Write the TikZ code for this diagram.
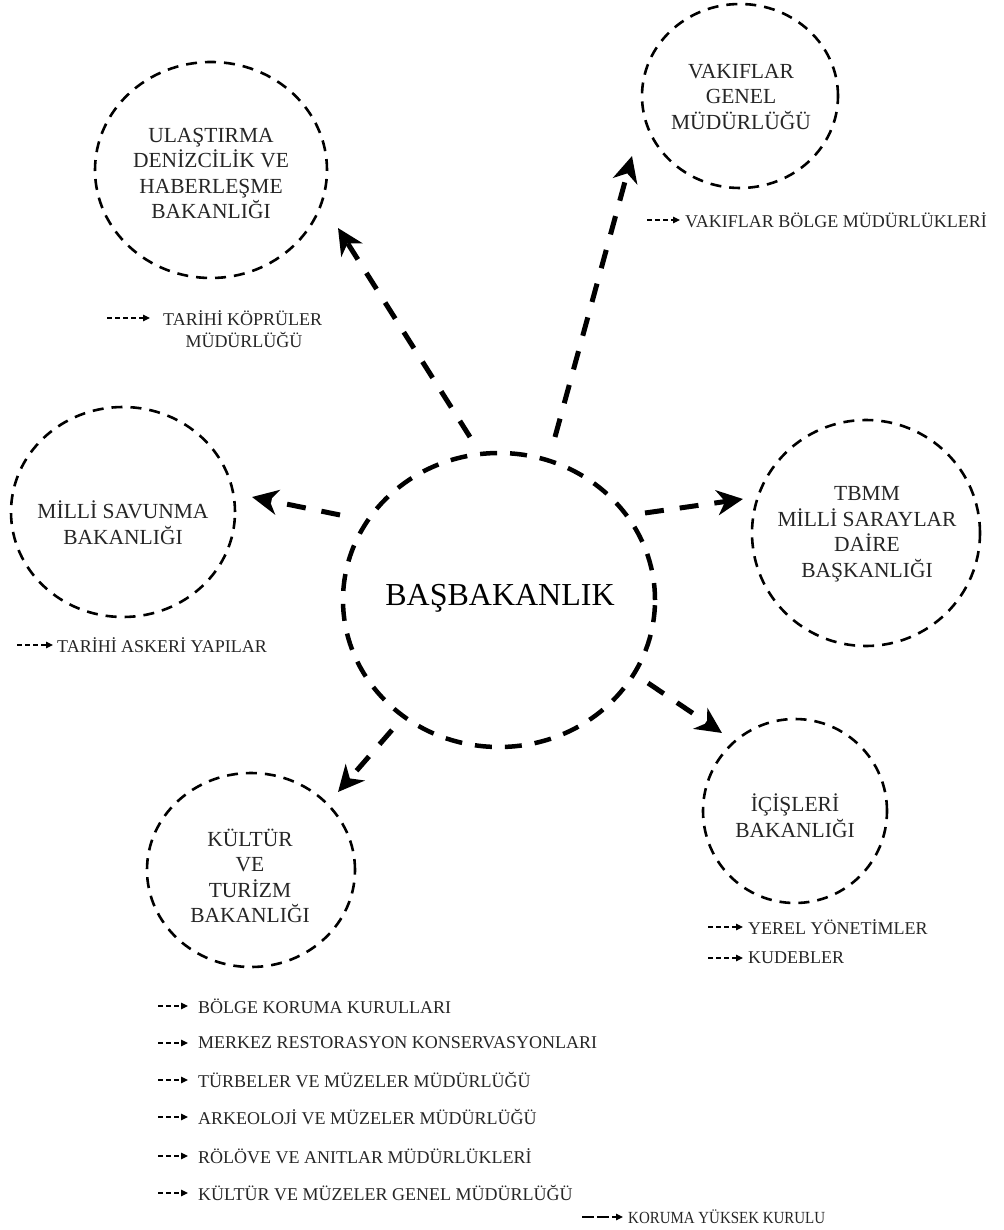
\documentclass[tikz,border=0pt]{standalone}
\usepackage{fontspec}
\setmainfont{Liberation Serif}
\usetikzlibrary{shapes.geometric,arrows.meta}
\begin{document}
\begin{tikzpicture}[x=1pt,y=-1pt,
  ring/.style={draw, ellipse, line width=2.6pt, dash pattern=on 11pt off 8pt, inner sep=0pt},
  mainring/.style={draw, ellipse, line width=4.5pt, dash pattern=on 17pt off 13pt, inner sep=0pt},
  lbl/.style={align=center, font=\fontsize{21.5}{25.5}\selectfont, text=black!85, inner sep=0pt},
  sub/.style={anchor=west, font=\fontsize{18}{22}\selectfont, text=black!85, inner sep=0pt},
  bigarrow/.style={line width=5pt, dash pattern=on 19pt off 16pt, -{Stealth[length=26pt,width=25pt,inset=8pt]}},
  smallarrow/.style={line width=1.2pt, dash pattern=on 5pt off 3pt, -{Triangle[length=7pt,width=6.5pt]}},
]
\fill[white] (0,0) rectangle (1003,1230);
\useasboundingbox (0,0) rectangle (1003,1230);

% central
\node[mainring, minimum width=312pt, minimum height=294pt] (bas) at (499,600) {};
\node[font=\fontsize{32}{36}\selectfont, inner sep=0pt] (bast) at (500,598) {BAŞBAKANLIK};

% ministries
\node[ring, minimum width=232pt, minimum height=216pt] (ula) at (211,170) {};
\node[lbl] (ulat) at (211,173.5) {ULAŞTIRMA\\DENİZCİLİK VE\\HABERLEŞME\\BAKANLIĞI};

\node[ring, minimum width=196pt, minimum height=184pt] (vak) at (740,96) {};
\node[lbl] (vakt) at (741,97) {VAKIFLAR\\GENEL\\MÜDÜRLÜĞÜ};

\node[ring, minimum width=224pt, minimum height=210pt] (mil) at (123,512) {};
\node[lbl] (milt) at (123,522.5) {MİLLİ SAVUNMA\\BAKANLIĞI};

\node[ring, minimum width=228pt, minimum height=226pt] (tbmm) at (866,533) {};
\node[lbl] (tbmmt) at (867,534) {TBMM\\MİLLİ SARAYLAR\\DAİRE\\BAŞKANLIĞI};

\node[ring, minimum width=184pt, minimum height=184pt] (ici) at (795,811) {};
\node[lbl] (icit) at (795,815.5) {İÇİŞLERİ\\BAKANLIĞI};

\node[ring, minimum width=208pt, minimum height=194pt] (kul) at (251,870) {};
\node[lbl] (kult) at (250,876) {KÜLTÜR\\VE\\TURİZM\\BAKANLIĞI};

% big arrows
\coordinate (a1s) at (470,437); \coordinate (a1e) at (338,228);
\coordinate (a2s) at (555,437); \coordinate (a2e) at (632,156);
\coordinate (a3s) at (340,515); \coordinate (a3e) at (252,497);
\coordinate (a4s) at (645,513); \coordinate (a4e) at (743,499);
\coordinate (a5s) at (648,683); \coordinate (a5e) at (722,733);
\coordinate (a6s) at (392,730); \coordinate (a6e) at (338,792);
\draw[bigarrow] (a1s) -- (a1e);
\draw[bigarrow] (a2s) -- (a2e);
\draw[bigarrow] (a3s) -- (a3e);
\draw[bigarrow] (a4s) -- (a4e);
\draw[bigarrow] (a5s) -- (a5e);
\draw[bigarrow] (a6s) -- (a6e);

% sub labels
\node[sub] (k1) at (163,318) {TARİHİ KÖPRÜLER};
\node[sub, anchor=center] (k2) at (244,340) {MÜDÜRLÜĞÜ};
\draw[smallarrow] ([xshift=-56pt]k1.west) -- ([xshift=-13pt]k1.west);

\node[sub] (vb) at (685,220) {VAKIFLAR BÖLGE MÜDÜRLÜKLERİ};
\draw[smallarrow] ([xshift=-38pt]vb.west) -- ([xshift=-5pt]vb.west);

\node[sub] (ta) at (57,645) {TARİHİ ASKERİ YAPILAR};
\draw[smallarrow] ([xshift=-40pt]ta.west) -- ([xshift=-4pt]ta.west);

\node[sub] (yy) at (748,927) {YEREL YÖNETİMLER};
\draw[smallarrow] ([xshift=-40pt]yy.west) -- ([xshift=-5pt]yy.west);
\node[sub] (kd) at (748,958) {KUDEBLER};
\draw[smallarrow] ([xshift=-40pt]kd.west) -- ([xshift=-5pt]kd.west);

\node[sub] (b1) at (198,1006) {BÖLGE KORUMA KURULLARI};
\node[sub] (b2) at (198,1043) {MERKEZ RESTORASYON KONSERVASYONLARI};
\node[sub] (b3) at (198,1080) {TÜRBELER VE MÜZELER MÜDÜRLÜĞÜ};
\node[sub] (b4) at (198,1117) {ARKEOLOJİ VE MÜZELER MÜDÜRLÜĞÜ};
\node[sub] (b5) at (198,1156) {RÖLÖVE VE ANITLAR MÜDÜRLÜKLERİ};
\node[sub] (b6) at (198,1193) {KÜLTÜR VE MÜZELER GENEL MÜDÜRLÜĞÜ};
\foreach \n in {b1,b2,b3,b4,b5,b6}{
  \draw[smallarrow] ([xshift=-40pt]\n.west) -- ([xshift=-10pt]\n.west);
}

\node[sub, font=\fontsize{17}{20}\selectfont] (kyk) at (628,1217) {\scalebox{0.88}[1]{KORUMA YÜKSEK KURULU}};
\draw[smallarrow, dash pattern=on 12pt off 3pt] ([xshift=-46pt]kyk.west) -- ([xshift=-5pt]kyk.west);
\end{tikzpicture}
\end{document}
